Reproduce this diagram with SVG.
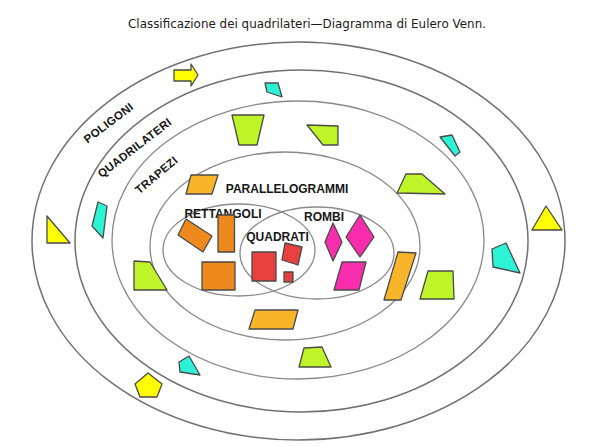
<svg xmlns="http://www.w3.org/2000/svg" width="600" height="447" viewBox="0 0 600 447">
<style>
.set{fill:none;stroke:#8a8a8a;stroke-width:1.3}
.outer{stroke:#707070;stroke-width:1.5}
.lbl{font-family:"Liberation Sans","Noto Sans",Arial,sans-serif;font-weight:bold;font-size:12px;fill:#161616}
.arc{font-size:11.5px;letter-spacing:0.3px}
.sh{stroke:#4a4a4a;stroke-width:1.3;stroke-linejoin:round}
.yel{fill:#FFFF00}
.cya{fill:#2DF3D6}
.lim{fill:#BFF528}
.ora{fill:#EE8A1D}
.amb{fill:#F9B52A}
.red{fill:#E8403F}
.mag{fill:#F72DAE}
</style>
<rect width="600" height="447" fill="#ffffff"/>
<text id="title" x="307" y="28" text-anchor="middle" font-family="'DejaVu Sans','Liberation Sans',sans-serif" font-size="11.5" fill="#1a1a1a" textLength="358" lengthAdjust="spacingAndGlyphs">Classificazione dei quadrilateri—Diagramma di Eulero Venn.</text>

<g id="set-poligoni">
<ellipse class="set outer" cx="298.5" cy="241" rx="266.5" ry="199"/>
<text class="lbl arc" text-anchor="middle" transform="translate(111,126) rotate(-37)">POLIGONI</text>
</g>
<g id="set-quadrilateri">
<ellipse class="set outer" cx="301.5" cy="241" rx="226.5" ry="171"/>
<text class="lbl arc" text-anchor="middle" transform="translate(137,151) rotate(-37.5)">QUADRILATERI</text>
</g>
<g id="set-trapezi">
<ellipse class="set" cx="298" cy="240" rx="186" ry="139"/>
<text class="lbl arc" text-anchor="middle" transform="translate(159,178) rotate(-40)">TRAPEZI</text>
</g>
<g id="set-parallelogrammi">
<ellipse class="set" cx="285" cy="246" rx="135" ry="94"/>
<text class="lbl" x="287" y="193" text-anchor="middle">PARALLELOGRAMMI</text>
</g>
<g id="set-rettangoli">
<ellipse class="set" cx="239" cy="250" rx="76" ry="46"/>
<text class="lbl" x="223" y="218" text-anchor="middle" font-size="11.5">RETTANGOLI</text>
</g>
<g id="set-rombi">
<ellipse class="set" cx="317" cy="253" rx="77" ry="46"/>
<text class="lbl" x="324" y="221" text-anchor="middle">ROMBI</text>
</g>
<g id="set-quadrati">
<text class="lbl" x="277.5" y="241" text-anchor="middle" font-size="11.5">QUADRATI</text>
</g>

<g id="shapes">
<g id="poligoni-shapes">
<polygon class="sh yel" points="174,70 191,70 191,64 198,75 191,86 191,81 174,81"/>
<polygon class="sh yel" points="47,216 70,243 47,243"/>
<polygon class="sh yel" points="546,206 562,230 532,230"/>
<polygon class="sh yel" points="148,373 162,384 157,397 140,397 135,384"/>
</g>
<g id="quadrilateri-shapes">
<polygon class="sh cya" points="265,83 278,83 282,97 267,92"/>
<polygon class="sh cya" points="440,137 452,135 460,152 455,156"/>
<polygon class="sh cya" points="98,202 107,206 103,238 92,226"/>
<polygon class="sh cya" points="492,249 506,243 520,273 493,267"/>
<polygon class="sh cya" points="179,362 189,356 200,375 180,372"/>
</g>
<g id="trapezi-shapes">
<polygon class="sh lim" points="232,115 264,115 257,145 239,145"/>
<polygon class="sh lim" points="307,125 338,126 338,145 323,145"/>
<polygon class="sh lim" points="397,193 406,174 422,174 445,194"/>
<polygon class="sh lim" points="134,261 150,262 167,290 134,290"/>
<polygon class="sh lim" points="428,271 453,271 454,299 420,299"/>
<polygon class="sh lim" points="304,348 322,347 331,367 299,367"/>
</g>
<g id="parallelogrammi-shapes">
<polygon class="sh amb" points="191,175 218,175 212,194 186,194"/>
<polygon class="sh amb" points="255,310 298,310 293,329 249,329"/>
<polygon class="sh amb" points="398,252 416,253 401,300 384,300"/>
</g>
<g id="rettangoli-shapes">
<polygon class="sh ora" points="186,219 212,236 203,252 178,235"/>
<rect class="sh ora" x="218" y="215" width="16.5" height="37"/>
<rect class="sh ora" x="202" y="262" width="33" height="28"/>
</g>
<g id="quadrati-shapes">
<rect class="sh red" x="252" y="252" width="24" height="29"/>
<polygon class="sh red" points="285,243 302,247 298,265 282,260"/>
<rect class="sh red" x="284" y="272" width="9" height="10"/>
</g>
<g id="rombi-shapes">
<polygon class="sh mag" points="333,223 342,242 333,261 325,242"/>
<polygon class="sh mag" points="360,215 374,237 360,257 346,237"/>
<polygon class="sh mag" points="342,262 366,262 359,290 334,290"/>
</g>
</g>
</svg>
